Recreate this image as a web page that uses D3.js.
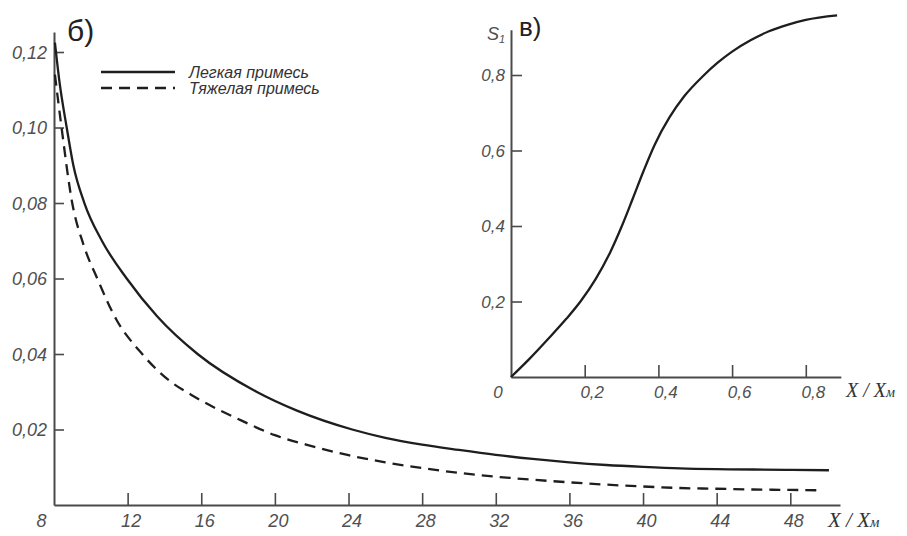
<!DOCTYPE html>
<html><head><meta charset="utf-8">
<script src="https://cdn.jsdelivr.net/npm/d3@7"></script>
<style>
body{margin:0;background:#fff;}
svg{display:block;}
</style></head>
<body>
<svg id="c" width="907" height="536"></svg>
<script>
// ---- data: main chart (б) ----
const lightX = [8.05, 8.3, 8.69, 9.05, 9.65, 10.6, 11.95, 13.6, 15.8, 19.0, 21.2, 24.2, 26, 28, 30, 32, 34, 36, 38, 40, 42, 44, 46, 48, 50.1];
const lightY = [0.1225, 0.112, 0.100, 0.090, 0.080, 0.070, 0.060, 0.050, 0.040, 0.030, 0.025, 0.020, 0.0178, 0.0160, 0.0146, 0.0133, 0.0122, 0.0113, 0.0106, 0.0101, 0.0097, 0.0095, 0.0094, 0.0093, 0.0092];
const heavyX = [8.05, 8.41, 8.99, 9.6, 10.35, 11.4, 12.7, 14.0, 15.77, 18, 20, 22, 24, 26, 28, 30, 32, 34, 36, 38, 40, 42, 44, 46, 48, 49.6];
const heavyY = [0.114, 0.100, 0.080, 0.069, 0.060, 0.049, 0.0405, 0.0340, 0.0283, 0.0228, 0.0185, 0.0156, 0.0132, 0.0113, 0.0098, 0.0085, 0.0075, 0.0067, 0.0060, 0.0054, 0.0049, 0.0045, 0.0043, 0.0041, 0.0040, 0.0039];
const mainXTicks = [8, 12, 16, 20, 24, 28, 32, 36, 40, 44, 48];
const mainYTicks = [0.02, 0.04, 0.06, 0.08, 0.10, 0.12];
const seriesNames = ["Легкая примесь", "Тяжелая примесь"];

// ---- data: inset chart (в) ----
const insetX = [0, 0.05, 0.10, 0.15, 0.19, 0.23, 0.27, 0.30, 0.33, 0.36, 0.39, 0.43, 0.47, 0.522, 0.56, 0.60, 0.65, 0.70, 0.75, 0.80, 0.885];
const insetY = [0, 0.048, 0.100, 0.154, 0.202, 0.260, 0.332, 0.398, 0.4715, 0.5465, 0.6155, 0.6875, 0.7435, 0.798, 0.832, 0.862, 0.892, 0.916, 0.933, 0.946, 0.958];
const insetXTicks = [0.2, 0.4, 0.6, 0.8];
const insetYTicks = [0.2, 0.4, 0.6, 0.8];

const svg = d3.select("#c");
const LINE = "#1e1e1e", AXIS = "#4a4a4a", LABEL = "#505050";
const fmt = d => d3.format(".2f")(d).replace(".", ",");
const fmt1 = d => d3.format(".1f")(d).replace(".", ",");

// ---------- main chart ----------
const x = d3.scaleLinear().domain([8, 50.7]).range([54, 840]);
const y = d3.scaleLinear().domain([0, 0.1253]).range([505, 32]);

const gx = svg.append("g").attr("transform", "translate(0,505)")
  .call(d3.axisBottom(x).tickValues(mainXTicks).tickSizeInner(-12).tickSizeOuter(0).tickFormat(d3.format("d")));
const gy = svg.append("g").attr("transform", "translate(54,0)")
  .call(d3.axisLeft(y).tickValues(mainYTicks).tickSizeInner(-10).tickSizeOuter(0).tickFormat(fmt));

[gx, gy].forEach(g => {
  g.select(".domain").attr("stroke", AXIS).attr("stroke-width", 2);
  g.selectAll(".tick line").attr("stroke", AXIS).attr("stroke-width", 1.6);
  g.selectAll(".tick text").attr("fill", LABEL).attr("font-family", "Liberation Sans, Arial, sans-serif")
    .attr("font-style", "italic").attr("font-size", 18);
});
gx.selectAll(".tick line").filter(d => d === 8).remove();
gx.selectAll(".tick text").attr("y", 22).attr("dy", 0).attr("x", d => d === 8 ? -13 : 3);
gy.selectAll(".tick text").attr("x", -7).attr("dy", "0.35em");

const lineMain = d3.line().x(d => x(d[0])).y(d => y(d[1])).curve(d3.curveMonotoneX);
svg.append("path").datum(lightX.map((v, i) => [v, lightY[i]]))
  .attr("d", lineMain).attr("fill", "none").attr("stroke", LINE).attr("stroke-width", 2.3);
svg.append("path").datum(heavyX.map((v, i) => [v, heavyY[i]]))
  .attr("d", lineMain).attr("fill", "none").attr("stroke", LINE).attr("stroke-width", 2.3)
  .attr("stroke-dasharray", "11,7");

// legend
const leg = svg.append("g");
seriesNames.forEach((n, i) => {
  const yy = 72 + i * 16;
  leg.append("line").attr("x1", 101).attr("x2", 175).attr("y1", yy).attr("y2", yy)
    .attr("stroke", LINE).attr("stroke-width", 2.3).attr("stroke-dasharray", i ? "11,7" : null);
  leg.append("text").attr("x", 189).attr("y", yy).attr("dy", "0.35em")
    .attr("font-family", "Liberation Sans, Arial, sans-serif").attr("font-style", "italic")
    .attr("font-size", 16).attr("fill", "#333").text(n);
});

// panel label
svg.append("text").attr("x", 67).attr("y", 41).attr("font-family", "Liberation Sans, Arial, sans-serif")
  .attr("font-size", 30).attr("fill", "#222").text("б)");

// axis titles
function axisTitle(xp, yp, size) {
  const t = svg.append("text").attr("x", xp).attr("y", yp)
    .attr("font-family", "Liberation Serif, DejaVu Serif, serif").attr("font-style", "italic")
    .attr("font-size", size).attr("fill", "#333");
  t.append("tspan").text("X / X");
  t.append("tspan").attr("font-size", size * 0.7).text("м");
}
axisTitle(828, 527, 21);

// ---------- inset chart ----------
const xi = d3.scaleLinear().domain([0, 0.895]).range([511, 840.8]);
const yi = d3.scaleLinear().domain([0, 0.92]).range([377, 29.7]);

const gxi = svg.append("g").attr("transform", "translate(0,377)")
  .call(d3.axisBottom(xi).tickValues(insetXTicks).tickSizeInner(-12).tickSizeOuter(0).tickFormat(fmt1));
const gyi = svg.append("g").attr("transform", "translate(511,0)")
  .call(d3.axisLeft(yi).tickValues(insetYTicks).tickSizeInner(-11).tickSizeOuter(0).tickFormat(fmt1));
[gxi, gyi].forEach(g => {
  g.select(".domain").attr("stroke", AXIS).attr("stroke-width", 2);
  g.selectAll(".tick line").attr("stroke", AXIS).attr("stroke-width", 1.6);
  g.selectAll(".tick text").attr("fill", LABEL).attr("font-family", "Liberation Sans, Arial, sans-serif")
    .attr("font-style", "italic").attr("font-size", 17);
});
gxi.selectAll(".tick text").attr("y", 21).attr("dy", 0).attr("x", 7);
gyi.selectAll(".tick text").attr("x", -6).attr("dy", "0.35em");
svg.append("text").attr("x", 498).attr("y", 398).attr("text-anchor", "middle")
  .attr("fill", LABEL).attr("font-family", "Liberation Sans, Arial, sans-serif")
  .attr("font-style", "italic").attr("font-size", 17).text("0");

const lineIn = d3.line().x(d => xi(d[0])).y(d => yi(d[1])).curve(d3.curveMonotoneX);
svg.append("path").datum(insetX.map((v, i) => [v, insetY[i]]))
  .attr("d", lineIn).attr("fill", "none").attr("stroke", LINE).attr("stroke-width", 2.3);

// inset labels
const s = svg.append("text").attr("x", 487).attr("y", 40).attr("font-family", "Liberation Sans, Arial, sans-serif")
  .attr("font-style", "italic").attr("font-size", 18).attr("fill", LABEL);
s.append("tspan").text("S");
s.append("tspan").attr("font-size", 11).attr("dy", 3).text("1");
svg.append("text").attr("x", 519).attr("y", 36).attr("font-family", "Liberation Sans, Arial, sans-serif")
  .attr("font-size", 26).attr("fill", "#222").text("в)");
axisTitle(846, 397, 20);
</script>
</body></html>
